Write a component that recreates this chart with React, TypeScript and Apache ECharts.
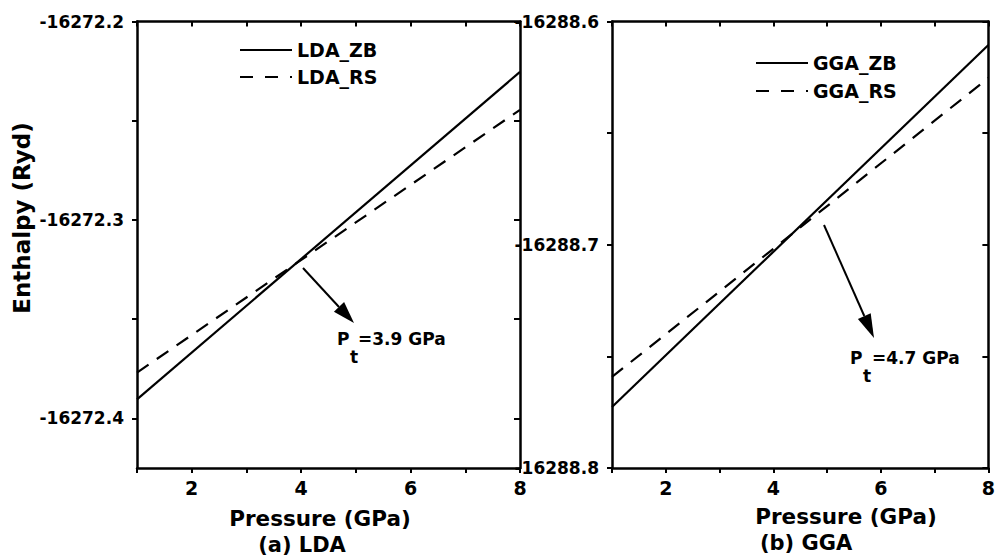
import React, { useEffect, useRef } from "react";
import * as echarts from "echarts";

const pressure = [1, 8];
const ldaZB = [-16272.3904, -16272.2254];
const ldaRS = [-16272.3769, -16272.2445];
const ggaZB = [-16288.7727, -16288.6105];
const ggaRS = [-16288.7592, -16288.6253];

const seriesNames = ["LDA_ZB", "LDA_RS", "GGA_ZB", "GGA_RS"];
const xTicks = [1, 2, 3, 4, 5, 6, 7, 8];
const xLabels = [2, 4, 6, 8];
const ldaYTicks = [-16272.4, -16272.35, -16272.3, -16272.25, -16272.2];
const ldaYLabels = [-16272.4, -16272.3, -16272.2];
const ggaYTicks = [-16288.8, -16288.75, -16288.7, -16288.65, -16288.6];
const ggaYLabels = [-16288.8, -16288.7, -16288.6];

const FONT = '"DejaVu Sans", "Liberation Sans", Arial, sans-serif';
const BLACK = "#000";
const DASH = [14, 10];

function pairs(xs: number[], ys: number[]) {
  return xs.map((x, i) => [x, ys[i]]);
}

export default function App() {
  const ref = useRef<HTMLDivElement>(null);
  useEffect(() => {
    if (!ref.current) return;
    const chart = echarts.init(ref.current, null, { renderer: "svg" });

    const grids = [
      { left: 137, top: 21.5, width: 383, height: 446.5 },
      { left: 612, top: 21.5, width: 383, height: 446.5 },
    ];

    const axisLine = { show: true, lineStyle: { color: BLACK, width: 2.5 } };
    const labelStyle = { color: BLACK, fontFamily: FONT, fontWeight: "bold" as const };

    const xAxes: any[] = [];
    const yAxes: any[] = [];
    [0, 1].forEach((g) => {
      xAxes.push({
        type: "value", gridIndex: g, position: "bottom", min: 1, max: 8,
        axisLine, splitLine: { show: false },
        axisTick: { show: true, inside: false, length: 5, lineStyle: { width: 2, color: BLACK }, customValues: xTicks },
        axisLabel: { ...labelStyle, fontSize: 19, margin: 10, customValues: xLabels, formatter: (v: number) => String(v) },
      });
      xAxes.push({
        type: "value", gridIndex: g, position: "top", min: 1, max: 8,
        axisLine, splitLine: { show: false },
        axisTick: { show: true, inside: true, length: 5, lineStyle: { width: 2, color: BLACK }, customValues: xTicks },
        axisLabel: { show: false },
      });
      const lo = g === 0 ? -16272.425 : -16288.8;
      const hi = g === 0 ? -16272.2 : -16288.6;
      const ticks = g === 0 ? ldaYTicks : ggaYTicks;
      const labels = g === 0 ? ldaYLabels : ggaYLabels;
      yAxes.push({
        type: "value", gridIndex: g, position: "left", min: lo, max: hi, scale: true,
        axisLine, splitLine: { show: false },
        axisTick: { show: true, inside: false, length: 5, lineStyle: { width: 2, color: BLACK }, customValues: ticks },
        axisLabel: { ...labelStyle, fontSize: 17, margin: 13, customValues: labels, formatter: (v: number) => v.toFixed(1) },
      });
      yAxes.push({
        type: "value", gridIndex: g, position: "right", min: lo, max: hi, scale: true,
        axisLine, splitLine: { show: false },
        axisTick: { show: true, inside: true, length: 6, lineStyle: { width: 2, color: BLACK }, customValues: ticks },
        axisLabel: { show: false },
      });
    });

    const seriesBase = { type: "line", showSymbol: false, symbol: "none", silent: true };

    const txt = (text: string, x: number, y: number, size: number, extra: any = {}) => ({
      type: "text", x, y, silent: true,
      style: { text, fill: BLACK, font: `bold ${size}px ${FONT}`, align: "center", verticalAlign: "middle", ...extra },
    });
    const seg = (x1: number, y1: number, x2: number, y2: number, dash?: number[]) => ({
      type: "line", silent: true, shape: { x1, y1, x2, y2 },
      style: { stroke: BLACK, lineWidth: 2, lineDash: dash || null },
    });

    chart.setOption({
      animation: false,
      backgroundColor: "#fff",
      grid: grids,
      xAxis: xAxes,
      yAxis: yAxes,
      series: [
        { ...seriesBase, name: seriesNames[0], xAxisIndex: 0, yAxisIndex: 0, data: pairs(pressure, ldaZB),
          lineStyle: { color: BLACK, width: 2.2, type: "solid" } },
        { ...seriesBase, name: seriesNames[1], xAxisIndex: 0, yAxisIndex: 0, data: pairs(pressure, ldaRS),
          lineStyle: { color: BLACK, width: 2.2, type: DASH } },
        { ...seriesBase, name: seriesNames[2], xAxisIndex: 2, yAxisIndex: 2, data: pairs(pressure, ggaZB),
          lineStyle: { color: BLACK, width: 2.2, type: "solid" } },
        { ...seriesBase, name: seriesNames[3], xAxisIndex: 2, yAxisIndex: 2, data: pairs(pressure, ggaRS),
          lineStyle: { color: BLACK, width: 2.2, type: DASH } },
      ],
      graphic: [
        { ...txt("Enthalpy (Ryd)", 0, 0, 23), x: 22, y: 218, rotation: Math.PI / 2 },
        txt("Pressure (GPa)", 320, 518, 21.5),
        txt("(a) LDA", 302, 545, 21),
        txt("Pressure (GPa)", 846, 516, 21.5),
        txt("(b) GGA", 806, 543, 21),
        // legend (a)
        seg(240, 50, 292, 50),
        txt(seriesNames[0], 297, 50, 19, { align: "left" }),
        seg(240, 77, 292, 77, [13, 12]),
        txt(seriesNames[1], 297, 77, 19, { align: "left" }),
        // legend (b)
        seg(756, 63, 808, 63),
        txt(seriesNames[2], 813, 63, 19, { align: "left" }),
        seg(756, 91, 808, 91, [13, 12]),
        txt(seriesNames[3], 813, 91, 19, { align: "left" }),
        // annotation (a)
        { type: "line", silent: true, shape: { x1: 303, y1: 268, x2: 339, y2: 307 }, style: { stroke: BLACK, lineWidth: 2 } },
        { type: "polygon", silent: true, shape: { points: [[354, 323], [333.9, 311.7], [344.1, 302.1]] }, style: { fill: BLACK } },
        txt("P", 337, 339, 17, { align: "left" }),
        txt("t", 350, 357, 17, { align: "left" }),
        txt("=3.9 GPa", 358, 339, 17, { align: "left" }),
        // annotation (b)
        { type: "line", silent: true, shape: { x1: 824, y1: 225, x2: 864.3, y2: 316 }, style: { stroke: BLACK, lineWidth: 2 } },
        { type: "polygon", silent: true, shape: { points: [[874, 338], [857.9, 318.9], [870.7, 313.3]] }, style: { fill: BLACK } },
        txt("P", 850, 358, 17, { align: "left" }),
        txt("t", 863, 376, 17, { align: "left" }),
        txt("=4.7 GPa", 872, 358, 17, { align: "left" }),
      ],
    });

    return () => chart.dispose();
  }, []);

  return (
    <div
      ref={ref}
      style={{ position: "fixed", left: 0, top: 0, width: 998, height: 559, background: "#fff" }}
    />
  );
}
